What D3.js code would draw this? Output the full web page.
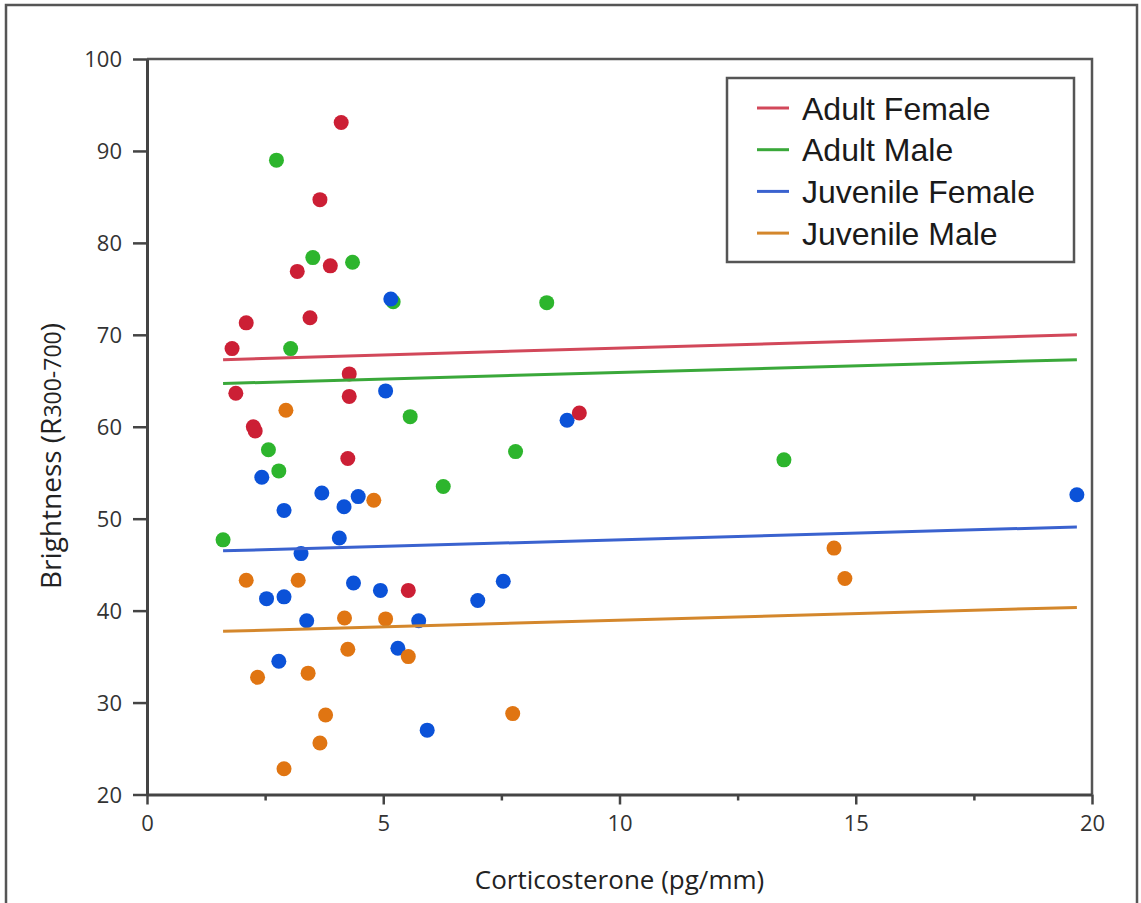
<!DOCTYPE html>
<meta charset="utf-8">
<html>
<head>
    <style>
        body {
            margin: 0;
            background-color: #fff;
        }

        text.tick-label {
            font-family: "Open Sans", sans-serif;
            font-size: 22px;
            fill: #333;
        }

        text.axis-title {
            font-family: "Open Sans", sans-serif;
            font-size: 26px;
            fill: #222;
        }

        text.legend-label {
            font-family: "Liberation Sans", Arial, sans-serif;
            font-size: 32px;
            fill: #1a1a1a;
        }
    </style>
    <title>Brightness vs Corticosterone</title>
    <script src="https://cdn.jsdelivr.net/npm/d3@7"></script>
</head>
<body>
<div id="chart"></div>
<script type="text/javascript">
    // groups, in legend order
    const groups = ["Adult Female", "Adult Male", "Juvenile Female", "Juvenile Male"];
    const dotColors = ["#cc1f35", "#2db52d", "#0b52d8", "#e07512"];
    const lineColors = ["#d2485a", "#3aa83a", "#3a62cf", "#d4872c"];

    // [corticosterone, brightness]
    const adultFemale = [
        [4.11, 93.1], [3.66, 84.7], [3.18, 76.9], [3.88, 77.5], [3.45, 71.85],
        [2.10, 71.3], [1.80, 68.5], [4.28, 65.75], [4.28, 63.3], [1.88, 63.65],
        [2.25, 60.0], [2.29, 59.55], [4.25, 56.55], [5.53, 42.2], [9.15, 61.5]
    ];
    const adultMale = [
        [2.74, 89.0], [3.51, 78.4], [4.35, 77.9], [5.21, 73.6], [8.46, 73.5],
        [3.04, 68.5], [5.57, 61.1], [2.57, 57.5], [2.79, 55.2], [7.80, 57.3],
        [6.27, 53.5], [1.61, 47.7], [13.48, 56.4]
    ];
    const juvenileFemale = [
        [5.16, 73.9], [5.05, 63.9], [8.89, 60.7], [2.43, 54.5], [3.70, 52.8],
        [4.47, 52.4], [4.17, 51.3], [2.90, 50.9], [4.07, 47.9], [3.26, 46.2],
        [19.68, 52.6], [4.37, 43.0], [4.94, 42.2], [7.54, 43.2], [2.53, 41.3],
        [2.90, 41.5], [7.00, 41.1], [3.38, 38.9], [5.75, 38.9], [5.31, 35.9],
        [2.79, 34.5], [5.93, 27.0]
    ];
    const juvenileMale = [
        [2.94, 61.8], [4.80, 52.0], [2.10, 43.3], [3.20, 43.3], [14.54, 46.8],
        [14.77, 43.5], [4.18, 39.2], [5.05, 39.1], [4.25, 35.8], [5.53, 35.0],
        [2.34, 32.75], [3.41, 33.2], [3.78, 28.65], [3.66, 25.6], [2.90, 22.8],
        [7.74, 28.8]
    ];
    const series = [adultFemale, adultMale, juvenileFemale, juvenileMale];

    // fitted lines: x range and brightness at both ends
    const fitX = [1.61, 19.68];
    const fitStart = [67.3, 64.7, 46.5, 37.75];
    const fitEnd = [70.0, 67.3, 49.1, 40.35];

    const xTicks = [0, 5, 10, 15, 20];
    const xMinorTicks = [2.5, 7.5, 12.5, 17.5];
    const yTicks = [20, 30, 40, 50, 60, 70, 80, 90, 100];

    const W = 1141, H = 903;
    const margin = {top: 59, right: 49, bottom: 108.5, left: 147},
        width = W - margin.left - margin.right,
        height = H - margin.top - margin.bottom;

    const root = d3.select("#chart").append("svg")
        .attr("width", W)
        .attr("height", H);

    // outer frame of the figure
    root.append("rect")
        .attr("x", 6).attr("y", 5)
        .attr("width", 1131).attr("height", 920)
        .attr("fill", "none")
        .attr("stroke", "#555")
        .attr("stroke-width", 2.5);

    const svg = root.append("g")
        .attr("transform", "translate(" + margin.left + "," + margin.top + ")");

    const x = d3.scaleLinear().domain([0, 20]).range([0, width]);
    const y = d3.scaleLinear().domain([20, 100]).range([height, 0]);

    // plot frame: top and right
    svg.append("path")
        .attr("d", "M0,0H" + width + "V" + height)
        .attr("fill", "none")
        .attr("stroke", "#555")
        .attr("stroke-width", 2.5);

    // x axis
    svg.append("g")
        .attr("transform", "translate(0," + height + ")")
        .call(d3.axisBottom(x).tickValues(xTicks).tickSize(10).tickSizeOuter(0).tickPadding(11));
    svg.append("g")
        .attr("transform", "translate(0," + height + ")")
        .call(d3.axisBottom(x).tickValues(xMinorTicks).tickSize(6).tickFormat(""))
        .call(g => g.select(".domain").remove());

    // y axis
    const yAxis = svg.append("g")
        .call(d3.axisLeft(y).tickValues(yTicks).tickSize(14).tickSizeOuter(0).tickPadding(11));

    svg.selectAll(".domain").attr("stroke", "#444").attr("stroke-width", 3);
    svg.selectAll(".tick line").attr("stroke", "#444").attr("stroke-width", 2.5);
    svg.selectAll(".tick text").attr("class", "tick-label").attr("font-size", null).attr("font-family", null);
    yAxis.selectAll(".tick text").attr("dy", "0.36em");

    // axis titles
    root.append("text")
        .attr("class", "axis-title")
        .attr("x", margin.left + x(10))
        .attr("y", 889)
        .attr("text-anchor", "middle")
        .text("Corticosterone (pg/mm)");

    const yTitle = root.append("text")
        .attr("class", "axis-title")
        .attr("text-anchor", "middle")
        .attr("transform", "translate(61,456) rotate(-90)");
    yTitle.append("tspan").style("font-size", "28px").text("Brightness (R");
    yTitle.append("tspan").style("font-size", "23px").text("300-700");
    yTitle.append("tspan").style("font-size", "28px").text(")");

    // dots: green, blue, red, orange so overlaps look like the figure
    const drawOrder = [1, 2, 0, 3];
    drawOrder.forEach(function (gi) {
        svg.append("g")
            .selectAll("circle")
            .data(series[gi])
            .enter().append("circle")
            .attr("cx", d => x(d[0]))
            .attr("cy", d => y(d[1]))
            .attr("r", 7.5)
            .attr("fill", dotColors[gi]);
    });

    // regression lines
    svg.append("g")
        .selectAll("line")
        .data(groups)
        .enter().append("line")
        .attr("x1", x(fitX[0]))
        .attr("x2", x(fitX[1]))
        .attr("y1", (d, i) => y(fitStart[i]))
        .attr("y2", (d, i) => y(fitEnd[i]))
        .attr("stroke", (d, i) => lineColors[i])
        .attr("stroke-width", 3);

    // legend
    const legend = root.append("g")
        .attr("transform", "translate(727,78)");
    legend.append("rect")
        .attr("width", 347)
        .attr("height", 184)
        .attr("fill", "#fff")
        .attr("stroke", "#555")
        .attr("stroke-width", 2.5);

    const items = legend.selectAll(".legend-item")
        .data(groups)
        .enter().append("g")
        .attr("class", "legend-item")
        .attr("transform", (d, i) => "translate(0," + (30 + i * 41.7) + ")");
    items.append("line")
        .attr("x1", 30).attr("x2", 62)
        .attr("stroke", (d, i) => lineColors[i])
        .attr("stroke-width", 3);
    items.append("text")
        .attr("class", "legend-label")
        .attr("x", 75)
        .attr("dy", "0.36em")
        .text(d => d);
</script>
</body>
</html>
